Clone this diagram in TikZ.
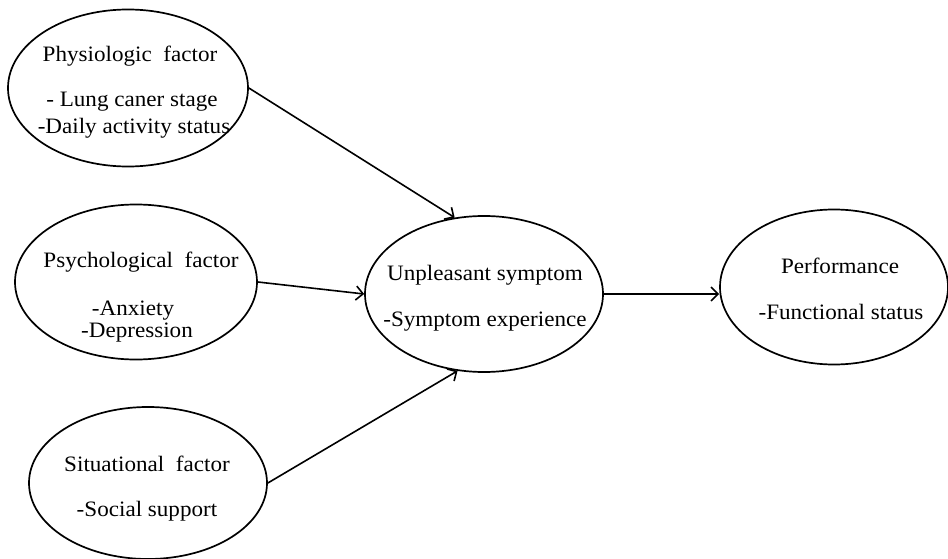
\documentclass[tikz,border=0pt]{standalone}
\usepackage{fontspec}
\setmainfont[FakeStretch=1.05]{Liberation Serif}
\usetikzlibrary{shapes.geometric,arrows.meta}
\tikzset{
  oval/.style={draw=black, line width=1.7pt, ellipse, inner sep=0pt},
  lbl/.style={anchor=base, inner sep=0pt, font=\fontsize{22}{26}\selectfont},
  conn/.style={line width=1.6pt, -{Straight Barb[length=7pt,width=14pt]}}
}
\begin{document}
\begin{tikzpicture}[x=1pt,y=-1pt]
\useasboundingbox (0,0) rectangle (948,559);
% ellipses
\node[oval, minimum width=240pt, minimum height=157pt] (phys) at (128,88) {};
\node[oval, minimum width=242pt, minimum height=155pt] (psych) at (136,282) {};
\node[oval, minimum width=238pt, minimum height=152pt] (sit) at (148,483) {};
\node[oval, minimum width=238pt, minimum height=156pt] (unp) at (484,294) {};
\node[oval, minimum width=228pt, minimum height=155pt] (perf) at (834,287) {};
% texts
\node[lbl] (t1) at (130,62) {Physiologic\ \ factor};
\node[lbl] (t2) at (132,107) {- Lung caner stage};
\node[lbl] (t3) at (134,134) {-Daily activity status};
\node[lbl] (t4) at (141,267) {Psychological\ \ factor};
\node[lbl] (t5) at (133,315) {-Anxiety};
\node[lbl] (t6) at (137,337) {-Depression};
\node[lbl] (t7) at (147,471) {Situational\ \ factor};
\node[lbl] (t8) at (147,516) {-Social support};
\node[lbl] (t9) at (485,280) {Unpleasant symptom};
\node[lbl] (t10) at (485,326) {-Symptom experience};
\node[lbl] (t11) at (840,273) {Performance};
\node[lbl] (t12) at (841,319) {-Functional status};
% connectors
\draw[conn] (phys.east) -- (unp.111);
\draw[conn] (psych.east) -- (unp.west);
\draw[conn] (sit.east) -- (unp.-109);
\draw[conn] (unp.east) -- (unp.east -| perf.west);
\end{tikzpicture}
\end{document}
